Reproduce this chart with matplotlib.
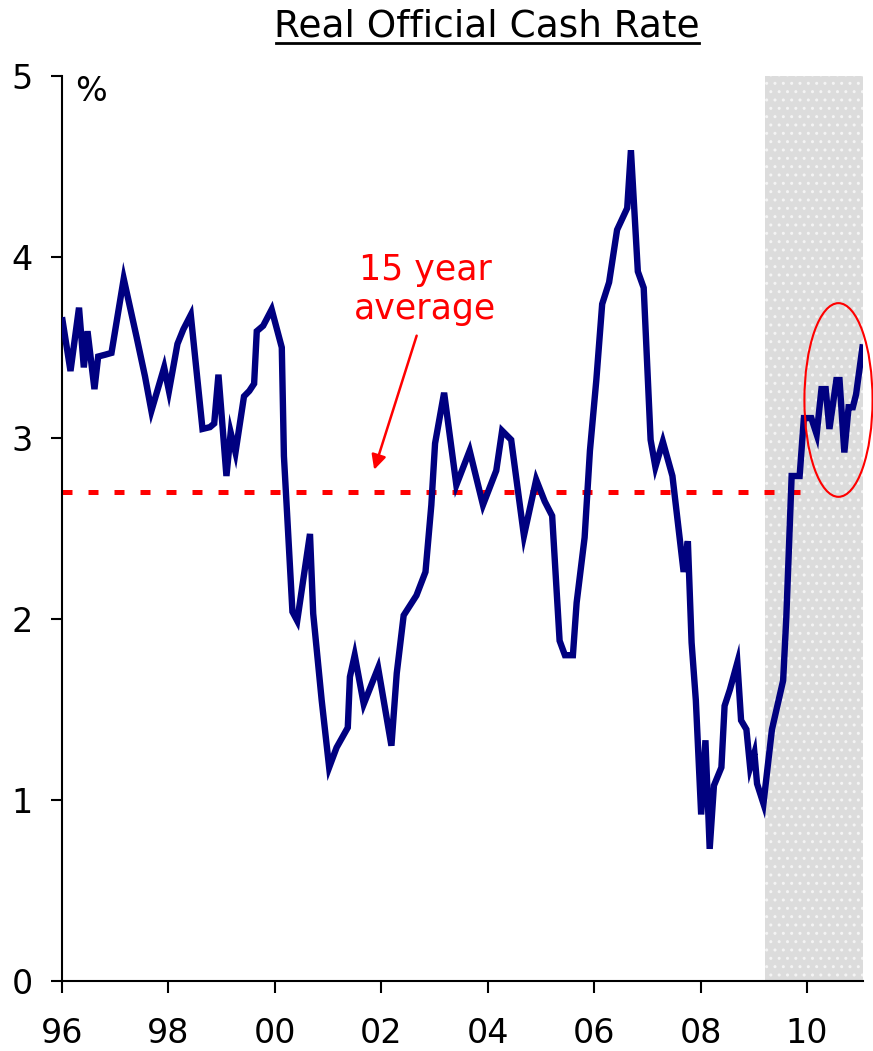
import numpy as np
import matplotlib.pyplot as plt
from matplotlib.patches import Ellipse

anni = [
    1996.01, 1996.16, 1996.32, 1996.41, 1996.48, 1996.61, 1996.68, 1996.81, 1996.93,
    1997.16, 1997.40, 1997.56, 1997.68, 1997.92, 1998.01, 1998.17, 1998.28, 1998.42,
    1998.64, 1998.78, 1998.86, 1998.94, 1999.09, 1999.17, 1999.26, 1999.42, 1999.52,
    1999.61, 1999.66, 1999.78, 1999.94, 2000.13, 2000.17, 2000.23, 2000.33, 2000.42,
    2000.66, 2000.72, 2000.88, 2001.02, 2001.16, 2001.37, 2001.41, 2001.50, 2001.67,
    2001.94, 2002.19, 2002.29, 2002.42, 2002.66, 2002.83, 2002.94, 2003.01, 2003.18,
    2003.41, 2003.66, 2003.91, 2004.16, 2004.27, 2004.44, 2004.68, 2004.91, 2005.07,
    2005.21, 2005.35, 2005.45, 2005.60, 2005.67, 2005.82, 2005.92, 2006.04, 2006.15,
    2006.28, 2006.43, 2006.62, 2006.69, 2006.82, 2006.93, 2007.06, 2007.15, 2007.29,
    2007.47, 2007.68, 2007.76, 2007.83, 2007.91, 2008.01, 2008.09, 2008.17, 2008.25,
    2008.39, 2008.45, 2008.55, 2008.69, 2008.76, 2008.86, 2008.93, 2009.01, 2009.06,
    2009.18, 2009.34, 2009.55, 2009.61, 2009.71, 2009.86, 2009.94, 2010.08, 2010.18,
    2010.27, 2010.35, 2010.42, 2010.55, 2010.61, 2010.70, 2010.78, 2010.86, 2010.92,
    2011.04,
]
tasso = [
    3.65, 3.37, 3.72, 3.39, 3.59, 3.27, 3.45, 3.46, 3.47,
    3.88, 3.56, 3.34, 3.15, 3.39, 3.26, 3.52, 3.60, 3.68,
    3.05, 3.06, 3.08, 3.35, 2.79, 3.03, 2.92, 3.23, 3.26,
    3.30, 3.59, 3.62, 3.71, 3.50, 2.90, 2.58, 2.04, 1.99,
    2.47, 2.03, 1.55, 1.18, 1.29, 1.40, 1.68, 1.80, 1.53,
    1.73, 1.30, 1.70, 2.02, 2.13, 2.26, 2.63, 2.97, 3.25,
    2.74, 2.93, 2.63, 2.82, 3.04, 2.99, 2.46, 2.77, 2.65,
    2.57, 1.88, 1.80, 1.80, 2.09, 2.45, 2.93, 3.32, 3.74,
    3.86, 4.15, 4.27, 4.59, 3.92, 3.83, 2.99, 2.84, 2.98,
    2.79, 2.26, 2.43, 1.87, 1.55, 0.92, 1.33, 0.73, 1.08,
    1.18, 1.52, 1.61, 1.76, 1.44, 1.39, 1.18, 1.26, 1.09,
    0.98, 1.39, 1.66, 2.01, 2.79, 2.79, 3.11, 3.11, 3.02,
    3.27, 3.27, 3.05, 3.32, 3.32, 2.92, 3.17, 3.17, 3.24,
    3.50,
]

media_15 = 2.70
inizio_previsione = 2009.2
tick_anni = [1996, 1998, 2000, 2002, 2004, 2006, 2008, 2010]
tick_nomi = ["96", "98", "00", "02", "04", "06", "08", "10"]

plt.rcParams["font.family"] = "DejaVu Sans"

fig = plt.figure(figsize=(8.73, 10.51), dpi=100)
ax = fig.add_axes([0.071, 0.0666, 0.9175, 0.8611])

xmax = 2011.05
ax.axvspan(inizio_previsione, xmax, facecolor="#dcdcdc", edgecolor="#f4f4f4",
           hatch="..", linewidth=0, zorder=0)

ax.plot([1996, 2010.0], [media_15, media_15], color="red", lw=3.6,
        dashes=(2.0, 3.2), zorder=2)
ax.plot(anni, tasso, color="#000080", lw=4.6, solid_joinstyle="miter", zorder=3)

# media di 15 anni, etichetta e freccia
ax.text(2002.82, 3.82, "15 year\naverage", color="red", fontsize=25,
        ha="center", va="center", linespacing=1.2)
ax.annotate("", xy=(2001.85, 2.81), xytext=(2002.68, 3.58),
            arrowprops=dict(arrowstyle="-|>", color="red", lw=1.8,
                            mutation_scale=22))

ax.add_patch(Ellipse((2010.59, 3.21), 1.28, 1.07, fill=False,
                     edgecolor="red", lw=1.5, clip_on=False, zorder=4))

ax.set_xlim(1996, xmax)
ax.set_ylim(0, 5)
ax.set_xticks(tick_anni)
ax.set_xticklabels(tick_nomi)
ax.set_yticks([0, 1, 2, 3, 4, 5])
ax.tick_params(axis="both", labelsize=24, direction="out", width=1.5)
ax.tick_params(axis="x", length=8.6, pad=17)
ax.tick_params(axis="y", length=8, pad=13)
for s in ["top", "right"]:
    ax.spines[s].set_visible(False)
for s in ["left", "bottom"]:
    ax.spines[s].set_linewidth(1.5)

ax.text(0.017, 1.001, "%", transform=ax.transAxes, fontsize=24,
        ha="left", va="top")

# titolo sottolineato
fig.text(0.558, 0.965, "Real Official Cash Rate", fontsize=27,
         ha="center", va="baseline")
fig.add_artist(plt.Line2D([0.316, 0.801], [0.9595, 0.9595], color="black", lw=2))

fig.savefig("out.png", dpi=100)
